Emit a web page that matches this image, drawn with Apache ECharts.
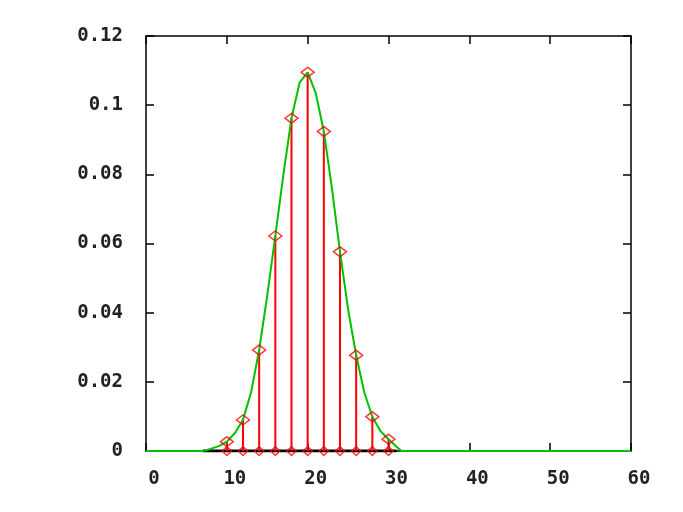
<!DOCTYPE html>
<html>
<head>
<meta charset="utf-8">
<script src="https://cdn.jsdelivr.net/npm/echarts@6/dist/echarts.min.js"></script>
<style>html,body{margin:0;padding:0;background:#fff}#c{width:683px;height:512px}</style>
</head>
<body>
<div id="c"></div>
<script>
// Impulse data (x, probability)
const xs = [10, 12, 14, 16, 18, 20, 22, 24, 26, 28, 30];
const ys = [0.0027, 0.009, 0.0292, 0.0622, 0.0962, 0.1095, 0.0924, 0.0576, 0.0277, 0.0099, 0.0034];
// Green curve samples
const curveX = [0, 7, 8, 9, 10, 11, 12, 13, 14, 15, 16, 17, 18, 19, 20, 21, 22, 23, 24, 25, 26, 27, 28, 29, 30, 31, 31.6, 60];
const curveY = [0, 0, 0.0006, 0.0014, 0.0027, 0.0052, 0.009, 0.017, 0.0292, 0.045, 0.0622, 0.080, 0.0962, 0.1065, 0.1095, 0.1035, 0.0924, 0.076, 0.0576, 0.041, 0.0277, 0.017, 0.0099, 0.0058, 0.0034, 0.0012, 0, 0];
// Black baseline segment
const baseX = [7, 31];
const xTicks = [0, 10, 20, 30, 40, 50, 60];
const yTicks = [0, 0.02, 0.04, 0.06, 0.08, 0.1, 0.12];

const font = 'DejaVu Sans Mono';
const chart = echarts.init(document.getElementById('c'));
const axisCommon = {
  axisLine: {show: true, onZero: false, lineStyle: {color: '#000', width: 1.5}},
  axisTick: {show: true, inside: true, length: 8, lineStyle: {color: '#000', width: 1.5}},
  splitLine: {show: false}
};
chart.setOption({
  animation: false,
  grid: {left: 146, right: 52, top: 36, bottom: 61, containLabel: false},
  xAxis: [
    Object.assign({type: 'value', min: 0, max: 60, interval: 10, position: 'bottom',
      axisLabel: {color: '#222', fontFamily: font, fontWeight: 'bold', fontSize: 19, margin: 19, padding: [0, 0, 0, 16],
        formatter: v => String(v)}}, axisCommon),
    Object.assign({type: 'value', min: 0, max: 60, interval: 10, position: 'top',
      axisLabel: {show: false}}, axisCommon)
  ],
  yAxis: [
    Object.assign({type: 'value', min: 0, max: 0.12, interval: 0.02, position: 'left',
      axisLabel: {color: '#222', fontFamily: font, fontWeight: 'bold', fontSize: 19, margin: 23,
        formatter: v => String(Math.round(v * 100) / 100)}}, axisCommon),
    Object.assign({type: 'value', min: 0, max: 0.12, interval: 0.02, position: 'right',
      axisLabel: {show: false}}, axisCommon)
  ],
  series: [
    {
      type: 'line', data: baseX.map(x => [x, 0]), symbol: 'none',
      lineStyle: {color: '#000', width: 3}, z: 2
    },
    {
      type: 'custom', z: 3,
      data: xs.map((x, i) => [x, ys[i]]),
      renderItem: function (params, api) {
        const p0 = api.coord([api.value(0), 0]);
        const p1 = api.coord([api.value(0), api.value(1)]);
        return {type: 'line', shape: {x1: p0[0], y1: p0[1], x2: p1[0], y2: p1[1]},
          style: {stroke: '#ff0000', lineWidth: 2}};
      }
    },
    {
      type: 'line', data: curveX.map((x, i) => [x, curveY[i]]), symbol: 'none',
      smooth: false,
      lineStyle: {color: '#00c000', width: 2}, z: 4
    },
    {
      type: 'scatter', data: xs.map((x, i) => [x, ys[i]]), symbol: 'diamond', symbolSize: [13, 10],
      itemStyle: {color: 'rgba(0,0,0,0)', borderColor: '#ff0000', borderWidth: 1.5}, z: 5
    },
    {
      type: 'scatter', data: xs.map(x => [x, 0]), symbol: 'diamond', symbolSize: [9, 9],
      itemStyle: {color: 'rgba(0,0,0,0)', borderColor: '#ff0000', borderWidth: 1.5}, z: 5
    }
  ]
});
</script>
</body>
</html>
